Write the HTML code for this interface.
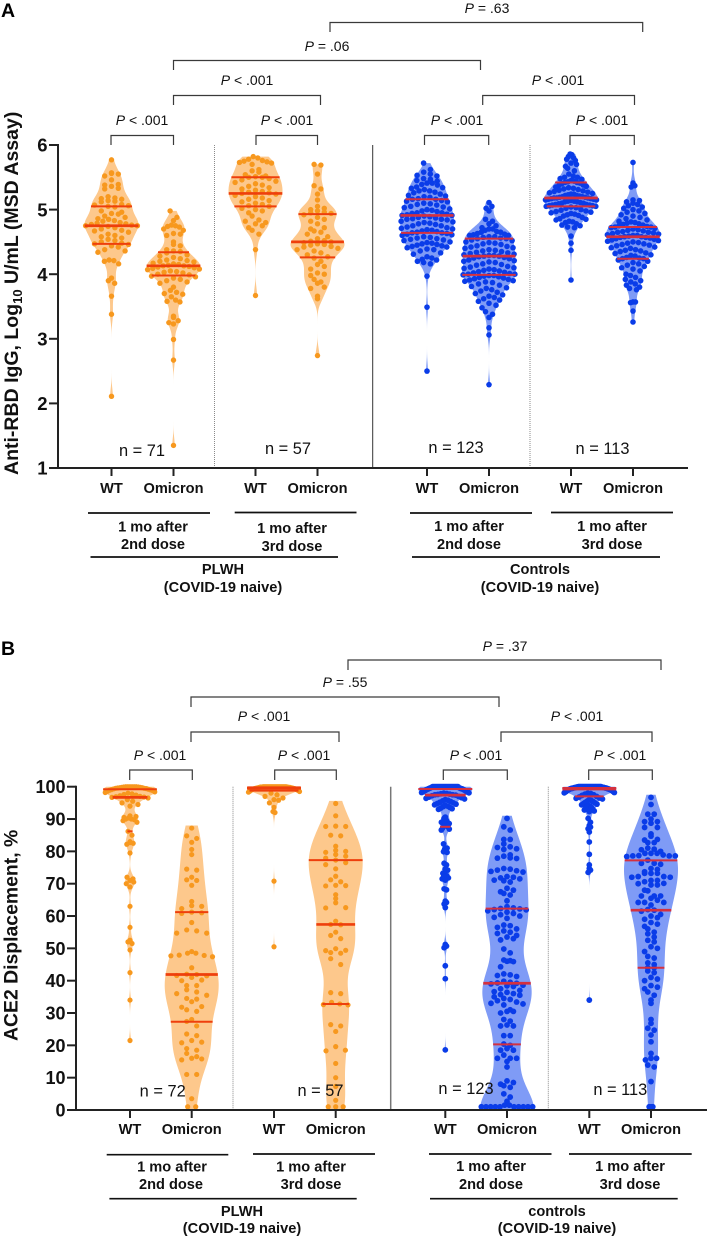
<!DOCTYPE html>
<html lang="en">
<head>
<meta charset="utf-8">
<title>Anti-RBD IgG and ACE2 displacement violin plots</title>
<style>
html,body{margin:0;padding:0;background:#fff;}
svg{display:block;font-family:"Liberation Sans",Arial,sans-serif;}
.bk{fill:none;stroke:#3a3a3a;stroke-width:1.2;}
.pv{font-size:14px;fill:#111;text-anchor:middle;}
.xl{font-size:14.6px;font-weight:700;fill:#111;text-anchor:middle;}
.rule{stroke:#111;stroke-width:1.7;}
.nl{font-size:16.4px;fill:#111;text-anchor:middle;}
.tk{font-weight:700;fill:#111;text-anchor:end;}
</style>
</head>
<body>
<svg id="chart" xmlns="http://www.w3.org/2000/svg" width="709" height="1239" viewBox="0 0 709 1239">
<rect x="0" y="0" width="709" height="1239" fill="#fff"/>
<g id="panelA">
<text x="1" y="17" font-size="19.5" font-weight="700">A</text>
<text transform="translate(18,475) rotate(-90)" font-size="19.5" font-weight="700" fill="#111">Anti-RBD IgG, Log<tspan font-size="13" dy="4">10</tspan><tspan dy="-4"> U/mL (MSD Assay)</tspan></text>
<g>
<path class="bk" d="M330 32V22.5H642.7V32"/><text class="pv" x="487" y="13"><tspan font-style="italic">P</tspan> = .63</text>
<path class="bk" d="M173.5 70V60.5H480.5V70"/><text class="pv" x="327" y="51"><tspan font-style="italic">P</tspan> = .06</text>
<path class="bk" d="M173.5 105V95.5H320.5V105"/><text class="pv" x="247" y="85"><tspan font-style="italic">P</tspan> &lt; .001</text>
<path class="bk" d="M482.7 105V95.5H634.5V105"/><text class="pv" x="558" y="85"><tspan font-style="italic">P</tspan> &lt; .001</text>
<path class="bk" d="M111 145V135.5H173.5V145"/><text class="pv" x="142" y="125"><tspan font-style="italic">P</tspan> &lt; .001</text>
<path class="bk" d="M256 145V135.5H317.5V145"/><text class="pv" x="287" y="125"><tspan font-style="italic">P</tspan> &lt; .001</text>
<path class="bk" d="M424.5 145V135.5H488.7V145"/><text class="pv" x="457" y="125"><tspan font-style="italic">P</tspan> &lt; .001</text>
<path class="bk" d="M570 145V135.5H634.3V145"/><text class="pv" x="602" y="125"><tspan font-style="italic">P</tspan> &lt; .001</text>
</g>
<g>
<line class="rule" x1="88" x2="210" y1="513" y2="513"/><text class="xl" x="153" y="531.5">1 mo after</text><text class="xl" x="153" y="549">2nd dose</text>
<line class="rule" x1="234.7" x2="356.5" y1="512.5" y2="512.5"/><text class="xl" x="292" y="533">1 mo after</text><text class="xl" x="292" y="551">3rd dose</text>
<line class="rule" x1="90.5" x2="338" y1="557" y2="557"/><text class="xl" x="223" y="574">PLWH</text><text class="xl" x="223" y="592">(COVID-19 naive)</text>
<line class="rule" x1="410" x2="532" y1="513" y2="513"/><text class="xl" x="469" y="531">1 mo after</text><text class="xl" x="469" y="549">2nd dose</text>
<line class="rule" x1="551" x2="673" y1="512.5" y2="512.5"/><text class="xl" x="612" y="531">1 mo after</text><text class="xl" x="612" y="549">3rd dose</text>
<line class="rule" x1="412" x2="660" y1="557" y2="557"/><text class="xl" x="540" y="574">Controls</text><text class="xl" x="540" y="592">(COVID-19 naive)</text>
</g>
</g>
<g id="panelB">
<text x="1" y="655" font-size="19.5" font-weight="700">B</text>
<text x="0" y="0" transform="translate(17.5,1041) rotate(-90)" font-size="19.4" font-weight="700" fill="#111">ACE2 Displacement, %</text>
<g>
<path class="bk" d="M348 670V660H661V670"/><text class="pv" x="505" y="651"><tspan font-style="italic">P</tspan> = .37</text>
<path class="bk" d="M191 707V697H499V707"/><text class="pv" x="345" y="687"><tspan font-style="italic">P</tspan> = .55</text>
<path class="bk" d="M191 742V732H339V742"/><text class="pv" x="264" y="721"><tspan font-style="italic">P</tspan> &lt; .001</text>
<path class="bk" d="M501 742V732H652V742"/><text class="pv" x="577" y="721"><tspan font-style="italic">P</tspan> &lt; .001</text>
<path class="bk" d="M129.7 780V770H192.3V780"/><text class="pv" x="160" y="760"><tspan font-style="italic">P</tspan> &lt; .001</text>
<path class="bk" d="M274.7 780V770H336.3V780"/><text class="pv" x="304" y="760"><tspan font-style="italic">P</tspan> &lt; .001</text>
<path class="bk" d="M443.3 780V770H507.3V780"/><text class="pv" x="476" y="760"><tspan font-style="italic">P</tspan> &lt; .001</text>
<path class="bk" d="M588.7 780V770H652.3V780"/><text class="pv" x="620" y="760"><tspan font-style="italic">P</tspan> &lt; .001</text>
</g>
<g>
<line class="rule" x1="106.7" x2="228.3" y1="1154.7" y2="1154.7"/><text class="xl" x="172" y="1171.7">1 mo after</text><text class="xl" x="171" y="1189">2nd dose</text>
<line class="rule" x1="253" x2="375" y1="1154" y2="1154"/><text class="xl" x="311" y="1171.7">1 mo after</text><text class="xl" x="311" y="1189">3rd dose</text>
<line class="rule" x1="109.4" x2="356.7" y1="1198.7" y2="1198.7"/><text class="xl" x="242" y="1216">PLWH</text><text class="xl" x="242" y="1233">(COVID-19 naive)</text>
<line class="rule" x1="429" x2="551.5" y1="1154" y2="1154"/><text class="xl" x="491" y="1171">1 mo after</text><text class="xl" x="491" y="1189">2nd dose</text>
<line class="rule" x1="569" x2="691.7" y1="1154" y2="1154"/><text class="xl" x="630" y="1171">1 mo after</text><text class="xl" x="630" y="1189">3rd dose</text>
<line class="rule" x1="430" x2="677.7" y1="1198.7" y2="1198.7"/><text class="xl" x="557" y="1216">controls</text><text class="xl" x="557" y="1233">(COVID-19 naive)</text>
</g>
</g>
</svg>
<script>
// ---------- Data ----------
const categories = ['WT','Omicron','WT','Omicron','WT','Omicron','WT','Omicron'];
const yTicksA = [1,2,3,4,5,6];
const yTicksB = [0,10,20,30,40,50,60,70,80,90,100];
const sampleSizesA = [71,57,123,113];
const sampleSizesB = [72,57,123,113];

// Panel A: log10 anti-RBD IgG
const aPlwhWtDose2 = [5.77,5.57,5.56,5.55,5.52,5.46,5.39,5.38,5.36,5.33,5.32,5.2,5.18,5.17,5.16,5.14,5.13,5.12,5.08,5.07,5.06,5.05,5.04,4.98,4.96,4.94,4.93,4.9,4.88,4.86,4.85,4.83,4.82,4.8,4.79,4.78,4.77,4.76,4.75,4.75,4.74,4.72,4.7,4.68,4.67,4.65,4.62,4.6,4.58,4.56,4.54,4.52,4.5,4.48,4.47,4.46,4.44,4.42,4.38,4.36,4.34,4.22,4.21,4.2,4.16,3.94,3.9,3.86,3.66,3.38,2.11];
const aPlwhOmDose2 = [4.98,4.88,4.83,4.76,4.75,4.74,4.73,4.7,4.68,4.63,4.62,4.6,4.5,4.46,4.44,4.38,4.36,4.35,4.33,4.3,4.28,4.26,4.24,4.22,4.21,4.2,4.19,4.17,4.16,4.15,4.14,4.13,4.13,4.12,4.11,4.1,4.09,4.08,4.07,4.05,4.04,4.03,4.02,4,3.99,3.97,3.96,3.94,3.92,3.9,3.88,3.86,3.8,3.75,3.72,3.7,3.69,3.65,3.6,3.58,3.57,3.35,3.33,3.28,3.25,3.23,2.99,2.67,1.35];
const aPlwhWtDose3 = [5.82,5.8,5.78,5.76,5.75,5.74,5.73,5.72,5.7,5.62,5.6,5.58,5.54,5.52,5.51,5.5,5.5,5.48,5.46,5.44,5.42,5.4,5.38,5.36,5.34,5.32,5.3,5.28,5.27,5.26,5.25,5.24,5.22,5.2,5.18,5.16,5.14,5.12,5.1,5.08,5.06,5.05,5.02,5,4.98,4.95,4.9,4.84,4.82,4.8,4.78,4.75,4.72,4.68,4.62,4.38,3.67];
const aPlwhOmDose3 = [5.7,5.69,5.55,5.37,5.32,5.24,5.15,5.05,5.02,5,4.98,4.96,4.95,4.94,4.92,4.88,4.85,4.82,4.78,4.72,4.7,4.67,4.65,4.62,4.58,4.55,4.52,4.51,4.5,4.49,4.47,4.46,4.45,4.43,4.42,4.4,4.38,4.36,4.33,4.3,4.27,4.25,4.2,4.15,4.12,4.08,4.02,4,3.98,3.92,3.88,3.86,3.8,3.78,3.66,3.62,2.74];
const aCtrlWtDose2 = [5.72,5.62,5.58,5.55,5.53,5.52,5.48,5.47,5.45,5.44,5.41,5.41,5.39,5.38,5.35,5.34,5.33,5.31,5.29,5.29,5.27,5.26,5.24,5.22,5.21,5.2,5.19,5.17,5.16,5.16,5.14,5.13,5.12,5.1,5.09,5.08,5.07,5.05,5.04,5.03,5.01,5,4.99,4.98,4.97,4.95,4.95,4.94,4.93,4.92,4.91,4.91,4.9,4.89,4.88,4.87,4.86,4.85,4.85,4.84,4.82,4.81,4.8,4.79,4.78,4.77,4.75,4.75,4.73,4.72,4.71,4.7,4.69,4.68,4.67,4.66,4.65,4.64,4.64,4.63,4.62,4.61,4.6,4.58,4.57,4.56,4.55,4.54,4.53,4.52,4.5,4.49,4.48,4.47,4.46,4.45,4.44,4.43,4.42,4.41,4.39,4.38,4.36,4.33,4.31,4.27,4.25,4.23,4.22,4.2,4.18,4.16,3.97,3.49,2.5];
const aCtrlOmDose2 = [5.11,5.05,5.02,4.98,4.85,4.82,4.78,4.75,4.72,4.7,4.7,4.68,4.66,4.65,4.65,4.63,4.62,4.61,4.6,4.6,4.58,4.58,4.57,4.56,4.55,4.55,4.53,4.52,4.5,4.49,4.48,4.47,4.46,4.44,4.43,4.42,4.41,4.4,4.38,4.37,4.36,4.35,4.34,4.33,4.32,4.31,4.3,4.29,4.29,4.28,4.28,4.27,4.26,4.25,4.24,4.22,4.21,4.2,4.19,4.18,4.16,4.15,4.14,4.12,4.11,4.1,4.09,4.08,4.07,4.06,4.05,4.04,4.03,4.02,4.01,4,4,3.99,3.98,3.98,3.97,3.96,3.95,3.94,3.93,3.92,3.91,3.9,3.89,3.88,3.87,3.85,3.83,3.81,3.79,3.78,3.76,3.74,3.72,3.7,3.68,3.66,3.64,3.62,3.6,3.58,3.55,3.52,3.48,3.42,3.38,3.33,3.17,3.06,2.29];
const aCtrlWtDose3 = [5.86,5.85,5.82,5.8,5.78,5.76,5.72,5.7,5.67,5.64,5.6,5.55,5.52,5.5,5.5,5.48,5.47,5.45,5.44,5.43,5.42,5.42,5.41,5.4,5.38,5.37,5.36,5.35,5.34,5.33,5.32,5.31,5.3,5.29,5.28,5.27,5.26,5.25,5.24,5.24,5.23,5.22,5.22,5.21,5.2,5.2,5.19,5.19,5.18,5.18,5.18,5.17,5.17,5.16,5.16,5.15,5.15,5.14,5.13,5.13,5.12,5.12,5.11,5.1,5.1,5.09,5.08,5.08,5.07,5.07,5.06,5.06,5.05,5.05,5.04,5.03,5.02,5,4.99,4.98,4.97,4.96,4.95,4.94,4.93,4.92,4.91,4.9,4.88,4.86,4.85,4.84,4.82,4.81,4.8,4.78,4.76,4.75,4.73,4.72,4.59,4.48,4.37,3.91];
const aCtrlOmDose3 = [5.73,5.41,5.37,5.35,5.15,5.14,5.12,5.1,5.08,5.06,5.04,5.02,5,4.98,4.96,4.94,4.92,4.9,4.88,4.86,4.84,4.82,4.81,4.8,4.79,4.78,4.77,4.76,4.75,4.74,4.73,4.73,4.72,4.71,4.7,4.69,4.68,4.67,4.66,4.65,4.65,4.64,4.63,4.62,4.61,4.6,4.6,4.59,4.58,4.58,4.57,4.57,4.56,4.55,4.54,4.53,4.52,4.51,4.5,4.49,4.48,4.47,4.46,4.45,4.44,4.42,4.41,4.4,4.38,4.37,4.36,4.35,4.33,4.32,4.3,4.29,4.28,4.26,4.25,4.24,4.24,4.22,4.2,4.18,4.16,4.14,4.12,4.1,4.08,4.05,4,3.98,3.95,3.92,3.9,3.88,3.85,3.83,3.8,3.78,3.76,3.57,3.57,3.56,3.43,3.26];

// Panel B: ACE2 displacement, %
const bPlwhWtDose2 = [100,100,100,100,100,100,99.9,99.9,99.8,99.8,99.7,99.7,99.6,99.5,99.5,99.4,99.3,99.2,99.1,99,98.9,98.8,98.6,98.4,98.2,98,97.8,97.6,97.4,97.2,97,96.9,96.8,96.7,96.5,96,95.5,95,94.5,94,91,90.8,90.5,90.3,90,90,89.8,89.5,89,86.2,85,83,82.7,82.5,82.2,79.5,72,71.5,71,70.5,70,69,63,56.5,52.5,52,51.5,49.5,42.5,34,21.5];
const bPlwhOmDose2 = [87.2,84.8,84,82.8,80.6,79,74.5,74.2,72,71.2,71,69.5,64.5,63.2,63,62.3,61.2,61,60.8,58,55.7,55.4,54.7,54.7,49,48.5,48.5,47.9,47.8,47.7,47.4,44,42,41.9,41.6,41.5,41,40.2,40,38.5,38.5,37.2,36.5,36,35.5,34.5,34.3,33.5,32,31.8,31,30.5,28,27.4,26,23.5,23,21.5,21,20.8,19,18.5,17.5,16.5,16,15.8,15.5,11,11,3.5,1,1];
const bPlwhWtDose3 = [100,100,100,100,100,100,100,100,100,100,100,100,100,100,100,100,100,100,100,100,99.9,99.9,99.9,99.8,99.8,99.8,99.7,99.7,99.6,99.6,99.5,99.5,99.4,99.4,99.3,99.2,99.1,99,98.9,98.8,98.6,98.5,98.3,98,97.5,97,96.5,96,95.8,95,93.6,92.3,92,70.8,50.5];
const bPlwhOmDose3 = [94.8,91,87.8,87.7,87.7,85,84.8,81.6,80.3,80,79.7,79,78.5,77.9,77.3,76.5,75.9,74.6,72.3,71.2,70.6,69.5,69.4,69.3,66.6,65.4,64.1,62.6,62.5,58.4,57.4,57.3,55,54,53,49.9,49.4,49.3,48.7,48.5,46.8,45,36.3,36,33.3,32.8,32.6,32.5,26.4,26,24.3,19.6,18.5,18.3,14.4,10,7.3,3,1,1,1];
const bCtrlWtDose2 = [100,100,100,100,100,100,100,100,100,100,100,100,100,100,100,100,100,100,100,100,100,100,100,100,99.8,99.7,99.6,99.5,99.5,99.4,99.3,99.3,99.2,99.1,99,98.9,98.8,98.7,98.6,98.5,98.4,98.3,98.2,98.1,98,97.9,97.8,97.7,97.6,97.5,97.5,97.4,97.2,97,96.8,96.6,96.4,96.2,96,95.8,95.6,95.4,95.2,95,94.8,94.6,94.4,94.2,94,93.8,93.6,93.4,93.2,93,90.6,90.2,89.5,89,88.6,88.3,88,87.8,87.6,87.2,86.9,86.6,82.3,81,80.7,80.2,79.9,79.7,76.3,75.8,74.5,74.2,73.2,72.7,72.4,72.2,71.8,71.5,71.1,68.4,68.1,64.6,64.2,63.7,62.6,51.2,50.7,50.2,44.6,40.6,18.6];
const bCtrlOmDose2 = [90.2,87.6,86.6,83.7,83.7,82.3,81.4,81.2,80.8,80.6,78.9,78.5,78,77.9,77.8,74.7,74.5,74.2,74,73.8,73.6,72.2,72,71.8,71.5,71.1,70.9,70.5,68.6,68,67.5,67,66.5,64.7,62.9,62.5,62.3,62.2,62,61.9,61.6,61.2,60.8,60.4,60,59.6,59.3,57.2,57,56.5,56,55.4,55,54.6,54,53.5,53,52.6,49.8,48.6,46.4,46.2,46,45.9,44.3,42.1,41.8,41.6,41.3,39.8,39.5,39.3,39.2,39,38.6,38.4,38.2,37.5,37,36.6,36.4,36,35.7,35.5,35,34.5,34.2,33.8,33.4,33,32.8,32.5,31,30.5,30.5,30,28,27.5,26.3,26,26,23,23,20.4,20,19,18.5,18.5,17,16,16,16,15,13.3,9,8.5,8,7.5,7,5,4,2.7,1.5,1.5,1,1,1,1,1,1,1,1,1,1];
const bCtrlWtDose3 = [100,100,100,100,100,100,100,100,100,100,100,100,100,100,100,100,100,100,100,100,100,100,100,100,100,100,100,100,99.9,99.9,99.9,99.8,99.8,99.8,99.7,99.7,99.7,99.6,99.6,99.6,99.5,99.5,99.5,99.4,99.4,99.3,99.3,99.2,99.2,99.1,99,99,98.9,98.8,98.7,98.6,98.5,98.4,98.3,98.2,98.1,98,97.9,97.7,97.5,97.3,97,96.8,96.5,96.4,96.2,96,95.8,95.6,95.4,95.2,95,94.8,94.6,94.4,94.2,94,93.8,93.6,93.3,93,92.8,92.5,92.3,90.2,89,88,87.5,87,86,82.9,79.1,75.8,74.7,74.2,73.5,34];
const bCtrlOmDose3 = [96.7,94.5,91.5,91.5,90,89.2,89.2,88.7,87.4,87.4,85.4,84.7,83.7,83.5,82.7,82.7,81,80.7,80.5,80,79.4,79.4,79.4,78.9,78.7,78.6,78.6,78.6,78.4,77.3,76.3,76.3,76,74.7,74.4,73.7,73.2,73.2,73.2,72.2,72.2,72,72,71,71,70.6,70.1,70,69.6,69.6,68,67.8,66.2,66.2,66.2,65.5,64.9,64.2,64.2,64.2,63.4,62,61.8,61.5,60.5,60,59.5,59,58,57.5,56.8,56,55,54.5,53.5,52.5,52,50.5,50,49,47.5,47,45.5,45,44,44,43,42.5,41,40.5,40,38.5,38,37.5,36.5,35.5,34,33,28,26.8,25.3,24.7,23.2,21.1,17.5,16,16,15.5,13.9,13.3,8.8,1,1,1];

// Quartile lines: [upper, median, lower]
const aPlwhWtDose2Q = [5.05,4.75,4.47];
const aPlwhOmDose2Q = [4.34,4.13,3.98];
const aPlwhWtDose3Q = [5.5,5.25,5.05];
const aPlwhOmDose3Q = [4.93,4.5,4.26];
const aCtrlWtDose2Q = [5.16,4.91,4.64];
const aCtrlOmDose2Q = [4.55,4.28,3.99];
const aCtrlWtDose3Q = [5.42,5.18,5.05];
const aCtrlOmDose3Q = [4.73,4.58,4.24];
const bPlwhWtDose2Q = [99.2,96.7,86.2];
const bPlwhOmDose2Q = [61.2,41.9,27.3];
const bPlwhWtDose3Q = [99.8,99.5,98.8];
const bPlwhOmDose3Q = [77.3,57.4,32.8];
const bCtrlWtDose2Q = [99.3,97.4,87.6];
const bCtrlOmDose2Q = [62.3,39.2,20.3];
const bCtrlWtDose3Q = [99.6,99.3,97];
const bCtrlOmDose3Q = [77.2,61.8,44];

// ---------- Rendering ----------
const SVGNS = 'http://www.w3.org/2000/svg';
const ORANGE = {fill:'#fdc88c',dot:'#f7981e',line:'#ee3f0c'};
const BLUE = {fill:'#7f9bf6',dot:'#0a3ce8',line:'#d4303f'};

function mk(tag, attrs, parent){
  const el = document.createElementNS(SVGNS, tag);
  for (const k in attrs) el.setAttribute(k, attrs[k]);
  parent.appendChild(el);
  return el;
}

function gauss(u){ return Math.exp(-0.5*u*u); }

// Kernel density, optionally reflected at the lower bound of the axis
function density(values, v, bw, floor){
  let s = 0;
  for (const x of values){
    s += gauss((v-x)/bw);
    if (floor !== null) s += gauss((v-(2*floor-x))/bw);
  }
  return s;
}

function drawViolin(parent, values, quartiles, cx, yScale, opts){
  const hwMax = 27;
  const lo = Math.max(opts.domainLo, Math.min.apply(null, values) - opts.pad);
  const hi = Math.min(opts.domainHi, Math.max.apply(null, values) + opts.pad);
  const steps = 220;
  const grid = [];
  let peak = 0;
  for (let i = 0; i <= steps; i++){
    const v = lo + (hi-lo)*i/steps;
    const d = density(values, v, opts.bw, opts.floor);
    if (d > peak) peak = d;
    grid.push([v,d]);
  }
  const halfWidth = v => hwMax*density(values, v, opts.bw, opts.floor)/peak;
  let left = '', right = '';
  grid.forEach((g,i) => {
    const w = hwMax*g[1]/peak;
    left += (i?'L':'M') + (cx-w).toFixed(2) + ' ' + yScale(g[0]).toFixed(2);
    right = 'L' + (cx+w).toFixed(2) + ' ' + yScale(g[0]).toFixed(2) + right;
  });
  const shape = mk('path', {d:left+right+'Z', fill:opts.color.fill}, parent);
  
  

  // Binned centre-out swarm
  const bins = new Map();
  const top = Math.max.apply(null, values);
  values.slice().sort((a,b)=>b-a).forEach(v => {
    const key = Math.floor((yScale(v)-yScale(top))/opts.binPx);
    if (!bins.has(key)) bins.set(key, []);
    bins.get(key).push(v);
  });
  bins.forEach(list => {
    const mid = list[Math.floor(list.length/2)];
    const room = Math.max(opts.r*0.4, halfWidth(mid) - opts.r*0.4);
    const n = list.length;
    const d = n > 1 ? Math.min(opts.gap, 2*room/(n-1)) : 0;
    list.forEach((v,i) => {
      const rank = Math.ceil(i/2)*(i%2 ? 1 : -1);
      const off = n%2 ? rank*d : (i%2 ? (Math.ceil(i/2)-0.5)*d : -(i/2+0.5)*d);
      const dot = mk('circle', {cx:(cx+off).toFixed(2), cy:yScale(v).toFixed(2), r:opts.r, fill:opts.color.dot}, parent);
      
      
    });
  });

  // Quartile and median lines
  quartiles.forEach((q,i) => {
    const w = halfWidth(q);
    const line = mk('line', {x1:cx-w, x2:cx+w, y1:yScale(q), y2:yScale(q), stroke:opts.color.line, 'stroke-width': i===1 ? 2.7 : 2}, parent);
    
    
  });
}

function drawPanel(p){
  const root = document.getElementById(p.id);
  const yScale = v => p.yBottom - (v-p.yMin)/(p.yMax-p.yMin)*(p.yBottom-p.yTop);
  const xScale = i => {
    const pair = Math.floor(i/2);
    return p.x0 + pair*144 + (pair>=2 ? p.extra : 0) + (i%2)*p.within;
  };
  const marks = mk('g', {}, root);
  
  
  p.series.forEach((values,i) => {
    const isOm = i%2===1;
    const color = i<4 ? ORANGE : BLUE;
    const opts = {
      color,
      bw: p.bw[i%2],
      pad: p.pad,
      floor: p.reflect.includes(i) ? p.yMin : null,
      domainLo: p.yMin,
      domainHi: p.yMax,
      binPx: p.binPx,
      gap: isOm ? p.gapOm[i<4?0:1] : p.gapWt,
      r: i<4 ? p.rO : p.rB
    };
    const g = mk('g', {}, marks);
    
    
    drawViolin(g, values, p.quartiles[i], xScale(i), yScale, opts);
  });

  // Dividers
  const divs = [[p.div[0],'#8a8a8a','1,1',1],[p.div[1],p.solid,'none',p.solidW],[p.div[2],'#8a8a8a','1,1',1]];
  divs.forEach(d => {
    const l = mk('line', {x1:d[0], x2:d[0], y1:p.yTop, y2:p.yBottom, stroke:d[1], 'stroke-width':d[3], 'stroke-dasharray':d[2]}, root);
    
    
  });

  // Axes
  const yAxis = mk('line', {x1:p.xAxis, x2:p.xAxis, y1:p.yTop-1, y2:p.yBottom+1, stroke:'#222', 'stroke-width':2}, root);
  
  
  const xAxis = mk('line', {x1:p.xAxis-1, x2:p.xEnd, y1:p.yBottom, y2:p.yBottom, stroke:'#222', 'stroke-width':2}, root);
  
  

  p.yTicks.forEach(t => {
    const y = yScale(t);
    const tick = mk('line', {x1:p.xAxis-p.tickLen, x2:p.xAxis, y1:y, y2:y, stroke:'#222', 'stroke-width':2}, root);
    
    
    const lab = mk('text', {class:'tk', x:p.xAxis-p.tickLen-1.5, y:y+p.tickFont*0.36, 'font-size':p.tickFont}, root);
    
    
    lab.textContent = t;
  });

  categories.forEach((c,i) => {
    const x = xScale(i);
    const tick = mk('line', {x1:x, x2:x, y1:p.yBottom, y2:p.yBottom+8, stroke:'#222', 'stroke-width':2}, root);
    
    
    const lab = mk('text', {class:'xl', x:x, y:p.yBottom+p.xLabelDy}, root);
    
    
    lab.textContent = c;
  });

  p.sizes.forEach((n,i) => {
    const lab = mk('text', {class:'nl', x:xScale(i*2)+p.nDx[i], y:p.yBottom-p.nDy[i]}, root);
    
    
    lab.textContent = 'n = ' + n;
  });
}

drawPanel({
  id:'panelA', yMin:1, yMax:6, yTop:145, yBottom:468, xAxis:58, xEnd:688, x0:111.5, within:62, extra:27.5,
  series:[aPlwhWtDose2,aPlwhOmDose2,aPlwhWtDose3,aPlwhOmDose3,aCtrlWtDose2,aCtrlOmDose2,aCtrlWtDose3,aCtrlOmDose3],
  quartiles:[aPlwhWtDose2Q,aPlwhOmDose2Q,aPlwhWtDose3Q,aPlwhOmDose3Q,aCtrlWtDose2Q,aCtrlOmDose2Q,aCtrlWtDose3Q,aCtrlOmDose3Q],
  bw:[0.12,0.11], pad:0, reflect:[], binPx:6.6, gapWt:6.8, gapOm:[6.8,7], rO:2.7, rB:2.8,
  div:[214.5,372.7,530], solid:'#333', solidW:1, yTicks:yTicksA, tickLen:9, tickFont:18.5, xLabelDy:25,
  sizes:sampleSizesA, nDx:[30.5,32.5,29,31.5], nDy:[12,14,15,14]
});
drawPanel({
  id:'panelB', yMin:0, yMax:100, yTop:786.7, yBottom:1110, xAxis:76, xEnd:707, x0:130, within:61.7, extra:27.3,
  series:[bPlwhWtDose2,bPlwhOmDose2,bPlwhWtDose3,bPlwhOmDose3,bCtrlWtDose2,bCtrlOmDose2,bCtrlWtDose3,bCtrlOmDose3],
  quartiles:[bPlwhWtDose2Q,bPlwhOmDose2Q,bPlwhWtDose3Q,bPlwhOmDose3Q,bCtrlWtDose2Q,bCtrlOmDose2Q,bCtrlWtDose3Q,bCtrlOmDose3Q],
  bw:[1.6,6.2], pad:0.8, reflect:[5], binPx:6.2, gapWt:6, gapOm:[10,6.4], rO:2.6, rB:2.9,
  div:[233,390.7,548.3], solid:'#777', solidW:1.5, yTicks:yTicksB, tickLen:9, tickFont:18, xLabelDy:24,
  sizes:sampleSizesB, nDx:[32.7,46.5,20.7,31], nDy:[13.3,14,16,15]
});
</script>
</body>
</html>
